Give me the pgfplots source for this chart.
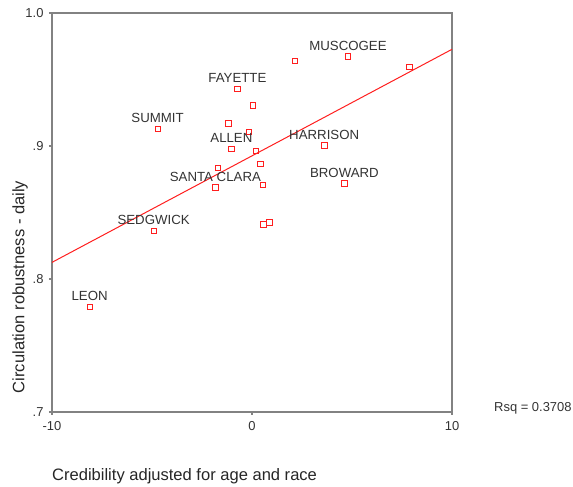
\documentclass[border=0pt]{standalone}
\usepackage{fontspec}
\setmainfont{Liberation Sans}
\usepackage{pgfplots}
\pgfplotsset{compat=1.18}
\definecolor{axgray}{RGB}{130,130,130}
\definecolor{ptred}{RGB}{255,30,30}
\begin{document}
\begin{tikzpicture}[x=1bp,y=1bp]
\path[use as bounding box] (-52,-75) rectangle (521,412);
\begin{axis}[
  at={(0,0)}, anchor=south west,
  scale only axis, width=400bp, height=399bp,
  xmin=-10, xmax=10, ymin=0.7, ymax=1.0,
  xtick={-10,0,10}, xticklabels={-10,0,10},
  ytick={0.7,0.8,0.9,1.0}, yticklabels={.7,.8,.9,1.0},
  tick pos=left, tick align=outside, major tick length=3bp,
  axis line style={axgray, line width=1.4bp},
  every tick/.style={axgray, line width=1.2bp},
  tick label style={font=\fontsize{13}{15}\selectfont, text=black!80},
  /pgf/number format/assume math mode=true,
  xticklabel style={yshift=-3bp},
  yticklabel style={xshift=-2bp},
  clip=false,
]
\addplot[ptred, line width=1bp] coordinates {(-10,0.8125) (10,0.9727)};
\addplot[only marks, mark=square, mark size=2.7bp, ptred, mark options={line width=0.8bp}] coordinates {
 (0.03,0.9306) (-1.18,0.917) (-0.15,0.9108) (0.19,0.8965) (0.41,0.8867)
 (-1.70,0.8837) (0.54,0.8707) (0.56,0.8411) (0.86,0.8426) (2.15,0.9641) (7.87,0.9596)
};
\addplot[only marks, mark=square, mark size=2.7bp, ptred, mark options={line width=0.8bp},
  point meta=explicit symbolic, nodes near coords,
  every node near coord/.append style={anchor=south, inner sep=0pt, yshift=5.5bp,
    font=\fontsize{13.3}{15}\selectfont, text=black!80}] coordinates {
 (-0.73,0.943) [FAYETTE]
 (-4.72,0.9128) [SUMMIT]
 (-1.03,0.898) [ALLEN]
 (-1.83,0.869) [SANTA CLARA]
 (-4.92,0.8363) [SEDGWICK]
 (4.80,0.9674) [MUSCOGEE]
 (3.61,0.9005) [HARRISON]
 (4.62,0.872) [BROWARD]
 (-8.12,0.779) [LEON]
};
\end{axis}
\node[anchor=west, inner sep=0pt, font=\fontsize{16.6}{19}\selectfont, text=black!85] at (0,-64) {Credibility adjusted for age and race};
\node[rotate=90, inner sep=0pt, font=\fontsize{16.6}{19}\selectfont, text=black!85] at (-32,125) {Circulation robustness - daily};
\node[anchor=west, inner sep=0pt, font=\fontsize{13}{15}\selectfont, text=black!80] at (442,4) {Rsq = 0.3708};
\end{tikzpicture}
\end{document}
